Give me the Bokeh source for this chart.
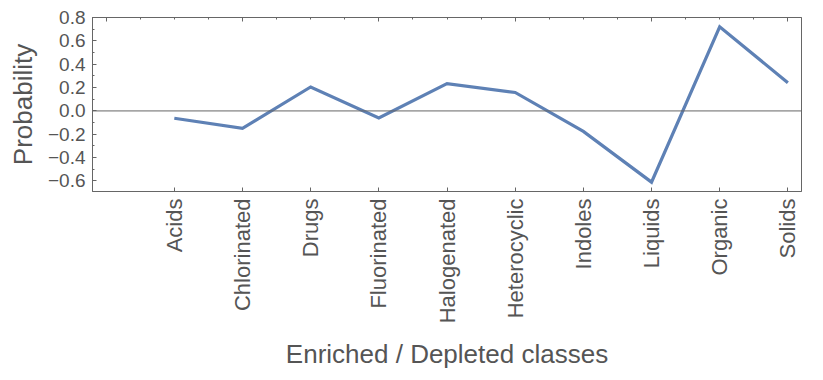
import numpy as np
from bokeh.plotting import figure
from bokeh.models import (LinearAxis, FixedTicker, Span, ColumnDataSource, Range1d,
                          CustomLabelingPolicy)
from bokeh.embed import file_html
from bokeh.resources import INLINE

# ---- data ----
classes = ["Acids", "Chlorinated", "Drugs", "Fluorinated", "Halogenated",
           "Heterocyclic", "Indoles", "Liquids", "Organic", "Solids"]
probability = [-0.063, -0.15, 0.205, -0.06, 0.234, 0.158, -0.175, -0.61, 0.72, 0.242]
y_ticks = [-0.6, -0.4, -0.2, 0.0, 0.2, 0.4, 0.6, 0.8]
y_tick_labels = ["\u22120.6", "\u22120.4", "\u22120.2", "0.0", "0.2", "0.4", "0.6", "0.8"]
x_title = "Enriched / Depleted classes"
y_title = "Probability"

positions = list(range(1, len(classes) + 1))

FONT = "Liberation Sans"
TEXT = "#555555"
FRAME = "#666666"
LINE = "#5E81B5"

p = figure(width=823, height=372, output_backend="svg", toolbar_location=None,
           x_range=Range1d(-0.2, 10.2), y_range=Range1d(-0.69, 0.80),
           x_axis_type=None, y_axis_type=None,
           min_border_left=92, min_border_right=22, min_border_top=17,
           min_border_bottom=179)
p.grid.visible = False
p.outline_line_color = FRAME
p.outline_line_width = 1
p.background_fill_color = "white"
p.border_fill_color = "white"

# zero line
p.add_layout(Span(location=0, dimension="width", line_color=FRAME, line_width=1))

src = ColumnDataSource(dict(x=positions, y=probability))
p.line("x", "y", source=src, line_color=LINE, line_width=3.2, line_join="miter")

# bottom axis with category labels
xb = LinearAxis(ticker=FixedTicker(ticks=positions, minor_ticks=[]),
                major_label_overrides={pos: c for pos, c in zip(positions, classes)},
                major_label_orientation=np.pi / 2,
                axis_label=x_title)
xb.major_tick_in = 4
xb.major_tick_out = 0
xb.minor_tick_in = 0
xb.minor_tick_out = 0
xb.axis_line_color = FRAME
xb.major_tick_line_color = FRAME
xb.major_label_text_font = FONT
xb.major_label_text_font_size = "22px"
xb.major_label_text_color = TEXT
xb.major_label_standoff = 7
xb.axis_label_text_font = FONT
xb.axis_label_text_font_size = "26px"
xb.axis_label_text_font_style = "normal"
xb.axis_label_text_color = TEXT
xb.axis_label_standoff = 13
p.add_layout(xb, "below")

# top axis: mirrored numeric ticks, no labels drawn
top_major = [0, 2, 4, 6, 8, 10]
top_minor = [i * 0.5 for i in range(0, 21)]
no_labels = CustomLabelingPolicy(code="""
    for (let i = 0; i < indices.size; i++) { indices.unset(i) }
    return indices
""")
xt = LinearAxis(ticker=FixedTicker(ticks=top_major, minor_ticks=top_minor),
                major_label_policy=no_labels)
xt.major_tick_in = 4
xt.major_tick_out = 0
xt.minor_tick_in = 2
xt.minor_tick_out = 0
xt.axis_line_color = FRAME
xt.major_tick_line_color = FRAME
xt.minor_tick_line_color = FRAME
xt.major_label_text_font_size = "10px"
xt.major_label_standoff = 0
p.add_layout(xt, "above")

# left axis
y_minor = [round(-0.6 + 0.1 * i, 2) for i in range(0, 15)]
yl = LinearAxis(ticker=FixedTicker(ticks=y_ticks, minor_ticks=y_minor),
                major_label_overrides={t: l for t, l in zip(y_ticks, y_tick_labels)},
                axis_label=y_title)
yl.major_tick_in = 4
yl.major_tick_out = 0
yl.minor_tick_in = 2
yl.minor_tick_out = 0
yl.axis_line_color = FRAME
yl.major_tick_line_color = FRAME
yl.minor_tick_line_color = FRAME
yl.major_label_text_font = FONT
yl.major_label_text_font_size = "19px"
yl.major_label_text_color = TEXT
yl.major_label_standoff = 7
yl.axis_label_text_font = FONT
yl.axis_label_text_font_size = "26px"
yl.axis_label_text_font_style = "normal"
yl.axis_label_text_color = TEXT
yl.axis_label_standoff = 7
p.add_layout(yl, "left")

open("out.html", "w").write(file_html(p, INLINE))
